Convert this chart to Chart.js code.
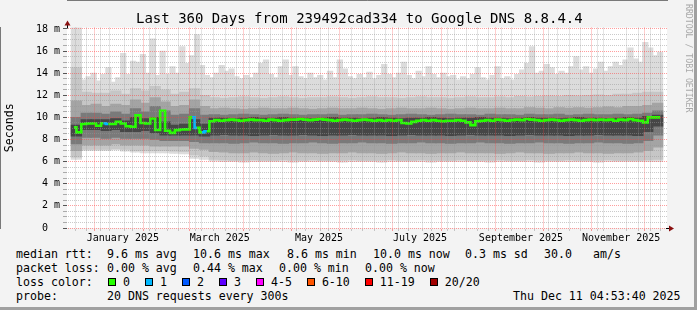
<!DOCTYPE html>
<html lang="en">
<head>
<meta charset="UTF-8" />
<title>Last 360 Days from 239492cad334 to Google DNS 8.8.4.4</title>
<script src="https://cdn.jsdelivr.net/npm/chart.js"></script>
<style>
  body { margin: 0; }
  #frame {
    position: relative; width: 697px; height: 310px; overflow: hidden;
    background: #f3f3f3; box-sizing: border-box;
    border-right: 3px solid #a0a0a0; border-bottom: 3px solid #a0a0a0;
    font-family: "DejaVu Sans Mono", monospace; color: #000;
  }
  #chart-box { position: absolute; left: 0; top: 0; width: 697px; height: 245px; }
  .txt { position: absolute; white-space: pre; font-size: 11.6px; line-height: 14px; }
  #title { position: absolute; left: 136px; top: 10px; white-space: pre; font-size: 14px; line-height: 16px; }
  #credit { position: absolute; left: 684px; top: 4px; writing-mode: vertical-rl; font-size: 8.2px; color: #a8a8a8; white-space: pre; }
  #loss-row { position: absolute; left: 108px; top: 275px; display: flex; align-items: center; }
  .item { display: flex; align-items: center; margin-right: 15px; font-size: 11.6px; line-height: 14px; white-space: pre; }
  .box { width: 6px; height: 6px; border: 1px solid #000; margin-right: 7px; }
</style>
</head>
<body>
<div id="frame">
  <div id="chart-box"><canvas id="smokeChart" width="697" height="245"></canvas></div>
  <div id="title">Last 360 Days from 239492cad334 to Google DNS 8.8.4.4</div>
  <div id="credit">RRDTOOL / TOBI OETIKER</div>

  <div class="txt" style="left:16px; top:247px">median rtt:</div>
  <div class="txt" style="left:107px; top:247px">9.6 ms avg</div>
  <div class="txt" style="left:193px; top:247px">10.6 ms max</div>
  <div class="txt" style="left:287px; top:247px">8.6 ms min</div>
  <div class="txt" style="left:373px; top:247px">10.0 ms now</div>
  <div class="txt" style="left:465px; top:247px">0.3 ms sd</div>
  <div class="txt" style="left:544px; top:247px">30.0</div>
  <div class="txt" style="left:593px; top:247px">am/s</div>

  <div class="txt" style="left:16px; top:261px">packet loss:</div>
  <div class="txt" style="left:107px; top:261px">0.00 % avg</div>
  <div class="txt" style="left:193px; top:261px">0.44 % max</div>
  <div class="txt" style="left:279px; top:261px">0.00 % min</div>
  <div class="txt" style="left:365px; top:261px">0.00 % now</div>

  <div class="txt" style="left:16px; top:275px">loss color:</div>
  <div id="loss-row"></div>

  <div class="txt" style="left:16px; top:289px">probe:</div>
  <div class="txt" style="left:107px; top:289px">20 DNS requests every 300s</div>
  <div class="txt" style="left:513px; top:289px">Thu Dec 11 04:53:40 2025</div>
</div>

<script>
  // time axis in days relative to Jan 1 2025
  const START_DAY = -15.8;
  const END_DAY = 344.2;
  const FINE_STEP = 3;   // days per bin for max / median
  const COARSE_STEP = 6; // days per bin for the inner smoke bands

  const monthStarts = [0, 31, 59, 90, 120, 151, 181, 212, 243, 273, 304, 334];
  const monthLabels = ["January 2025", "March 2025", "May 2025", "July 2025", "September 2025", "November 2025"];
  const monthLabelDays = [15.5, 74.5, 135, 196.5, 258, 319];

  const lossLabels = ["0", "1", "2", "3", "4-5", "6-10", "11-19", "20/20"];
  const lossColors = ["#26ff00", "#00b8ff", "#0059ff", "#5e00ff", "#ff00ff", "#ff5500", "#ff0000", "#a10000"];

  // ms, 3 day bins
  const rttMax = [
    18.5, 18.5, 13.4, 13.7, 14.0, 13.3, 13.9, 14.5, 13.2, 13.6,
    15.8, 13.9, 15.1, 15.0, 15.7, 14.0, 17.1, 13.8, 16.0, 13.9,
    14.6, 14.0, 16.4, 14.9, 15.6, 17.5, 14.7, 13.8, 13.6, 14.0,
    14.7, 14.2, 14.4, 13.7, 13.5, 13.8, 13.6, 14.0, 14.9, 15.2,
    13.9, 13.6, 14.6, 15.2, 13.8, 14.6, 13.7, 13.5, 14.0, 13.6,
    13.8, 13.4, 14.2, 13.6, 15.2, 14.4, 13.7, 13.5, 13.9, 13.6,
    14.1, 13.5, 13.8, 14.8, 13.9, 13.6, 14.0, 15.0, 13.8, 13.5,
    14.2, 13.7, 14.6, 13.9, 13.6, 14.0, 13.7, 13.8, 13.4, 13.7,
    13.5, 13.9, 14.5, 13.6, 13.4, 13.8, 14.6, 13.5, 13.7, 13.4,
    13.9, 14.3, 14.9, 16.4, 14.0, 14.2, 14.8, 14.5, 13.9, 14.2,
    14.0, 14.6, 15.5, 14.3, 14.6, 14.0, 14.4, 15.0, 14.2, 14.6,
    15.0, 14.7, 15.2, 16.3, 15.3, 15.0, 16.8, 16.3, 15.6, 15.9
  ];

  const rttMedian = [
    9.1, 8.65, 9.4, 9.45, 9.45, 9.25, 9.47, 9.4, 9.4, 9.6,
    9.45, 9.2, 9.15, 10.2, 9.5, 9.45, 9.9, 8.86, 10.6, 8.8,
    8.6, 8.85, 8.9, 8.92, 10.0, 9.05, 8.65, 8.75, 9.65, 9.75,
    9.7, 9.75, 9.8, 9.75, 9.7, 9.75, 9.8, 9.75, 9.75, 9.7,
    9.8, 9.75, 9.7, 9.75, 9.8, 9.8, 9.85, 9.8, 9.75, 9.8,
    9.85, 9.8, 9.75, 9.7, 9.75, 9.8, 9.75, 9.7, 9.75, 9.8,
    9.75, 9.7, 9.75, 9.7, 9.75, 9.7, 9.75, 9.5, 9.45, 9.6,
    9.7, 9.75, 9.7, 9.75, 9.7, 9.65, 9.7, 9.7, 9.75, 9.7,
    9.55, 9.3, 9.65, 9.7, 9.75, 9.7, 9.8, 9.75, 9.7, 9.75,
    9.8, 9.75, 9.85, 9.8, 9.75, 9.7, 9.75, 9.8, 9.75, 9.7,
    9.75, 9.8, 9.75, 9.7, 9.75, 9.8, 9.75, 9.8, 9.75, 9.8,
    9.7, 9.8, 9.75, 9.85, 9.75, 9.7, 9.55, 10.0, 10.0, 10.0
  ];

  // lost pings per bin (index into lossColors)
  const lossCount = [
    0, 0, 0, 0, 0, 0, 1, 0, 0, 0,
    0, 0, 0, 0, 0, 0, 0, 0, 0, 0,
    0, 0, 0, 0, 1, 0, 1, 0, 0, 0,
    0, 0, 0, 0, 0, 0, 0, 0, 0, 0,
    0, 0, 0, 0, 0, 0, 0, 0, 0, 0,
    0, 0, 0, 0, 0, 0, 0, 0, 0, 0,
    0, 0, 0, 0, 0, 0, 0, 0, 0, 0,
    0, 0, 0, 0, 0, 0, 0, 0, 0, 0,
    0, 0, 0, 0, 0, 0, 0, 0, 0, 0,
    0, 0, 0, 0, 0, 0, 0, 0, 0, 0,
    0, 0, 0, 0, 0, 0, 0, 0, 0, 0,
    0, 0, 0, 0, 0, 0, 0, 0, 0, 0
  ];

  // ms, 6 day bins: smoke band edges, outermost to innermost
  const smokeMin = [
    6.2, 7.0, 7.0, 7.0, 7.05, 6.95, 6.85, 6.8, 6.8, 6.8, 6.75, 6.7, 6.3, 6.2,
    6.05, 6.0, 6.0, 5.95, 6.0, 6.0,
    6.0, 6.0, 5.95, 6.0, 6.0, 6.0, 6.0, 5.95, 6.0, 6.0,
    6.0, 5.95, 6.0, 6.0, 6.0, 6.0, 5.95, 6.0, 6.0, 6.0,
    6.0, 6.0, 5.95, 6.0, 6.0, 6.0, 6.0, 5.95, 6.0, 6.0,
    6.0, 6.0, 6.0, 5.95, 6.0, 6.0, 6.0, 6.0, 6.0, 6.0
  ];
  const smokeLoA = [
    6.4, 7.1, 7.1, 7.1, 7.15, 7.1, 7.0, 7.0, 7.0, 7.0, 6.95, 6.9, 6.6, 6.5,
    6.2, 6.15, 6.1, 6.1, 6.15, 6.1,
    6.1, 6.15, 6.1, 6.1, 6.15, 6.1, 6.1, 6.1, 6.15, 6.1,
    6.1, 6.1, 6.15, 6.1, 6.1, 6.15, 6.1, 6.1, 6.1, 6.15,
    6.1, 6.1, 6.1, 6.15, 6.1, 6.1, 6.15, 6.1, 6.1, 6.1,
    6.15, 6.1, 6.1, 6.1, 6.15, 6.1, 6.1, 6.1, 6.15, 6.2
  ];
  const smokeLoB = [
    7.0, 7.5, 7.5, 7.5, 7.6, 7.5, 7.5, 7.5, 7.4, 7.4, 7.4, 7.4, 7.2, 7.1,
    6.9, 6.85, 6.8, 6.8, 6.85, 6.8,
    6.75, 6.8, 6.85, 6.8, 6.8, 6.75, 6.8, 6.8, 6.85, 6.8,
    6.8, 6.75, 6.8, 6.85, 6.8, 6.8, 6.75, 6.8, 6.8, 6.85,
    6.8, 6.8, 6.8, 6.75, 6.8, 6.85, 6.8, 6.8, 6.75, 6.8,
    6.8, 6.85, 6.8, 6.8, 6.75, 6.8, 6.8, 6.85, 7.0, 7.3
  ];
  const smokeLoC = [
    7.6, 8.2, 8.2, 8.1, 8.2, 8.1, 8.1, 8.1, 8.0, 7.9, 7.9, 7.9, 7.8, 7.7,
    7.7, 7.7, 7.65, 7.7, 7.75, 7.7,
    7.7, 7.65, 7.7, 7.7, 7.75, 7.7, 7.65, 7.7, 7.7, 7.75,
    7.7, 7.7, 7.65, 7.7, 7.7, 7.75, 7.7, 7.7, 7.65, 7.7,
    7.7, 7.75, 7.7, 7.7, 7.65, 7.7, 7.7, 7.75, 7.7, 7.7,
    7.65, 7.7, 7.7, 7.75, 7.7, 7.7, 7.65, 7.7, 7.9, 8.4
  ];
  const smokeLoD = [
    8.3, 8.9, 8.9, 8.8, 8.9, 8.7, 8.7, 8.8, 8.6, 8.4, 8.4, 8.4, 8.4, 8.3,
    8.4, 8.45, 8.4, 8.4, 8.35, 8.4,
    8.45, 8.4, 8.4, 8.45, 8.4, 8.35, 8.4, 8.4, 8.45, 8.4,
    8.4, 8.4, 8.35, 8.4, 8.45, 8.4, 8.4, 8.4, 8.35, 8.4,
    8.45, 8.4, 8.4, 8.4, 8.35, 8.4, 8.45, 8.4, 8.4, 8.4,
    8.35, 8.4, 8.4, 8.45, 8.4, 8.4, 8.4, 8.35, 8.7, 9.2
  ];
  const smokeHiD = [
    9.3, 9.8, 9.8, 9.8, 9.9, 9.7, 10.0, 9.9, 10.0, 9.6, 9.3, 9.4, 9.8, 9.4,
    9.95, 9.95, 9.9, 9.95, 10.0, 9.95,
    9.95, 10.0, 9.95, 9.95, 9.9, 9.95, 10.0, 9.95, 9.95, 9.9,
    9.95, 10.0, 9.95, 9.9, 9.95, 9.95, 10.0, 9.95, 9.9, 9.95,
    9.95, 10.0, 9.95, 9.95, 9.9, 9.95, 10.0, 9.95, 9.95, 9.9,
    9.95, 10.0, 9.95, 9.95, 9.9, 9.95, 10.0, 9.95, 10.1, 10.2
  ];
  const smokeHiC = [
    10.0, 10.4, 10.4, 10.3, 10.5, 10.3, 10.8, 10.5, 11.0, 10.6, 10.2, 10.3, 10.8, 10.2,
    10.25, 10.2, 10.25, 10.3, 10.25, 10.2,
    10.25, 10.3, 10.25, 10.2, 10.25, 10.25, 10.3, 10.2, 10.25, 10.25,
    10.3, 10.25, 10.2, 10.25, 10.3, 10.25, 10.2, 10.25, 10.3, 10.25,
    10.25, 10.2, 10.3, 10.25, 10.25, 10.2, 10.3, 10.25, 10.25, 10.3,
    10.2, 10.25, 10.3, 10.25, 10.25, 10.3, 10.25, 10.3, 10.4, 10.6
  ];
  const smokeHiB = [
    11.5, 11.1, 11.2, 11.0, 11.2, 11.1, 11.6, 11.3, 11.8, 11.4, 11.0, 11.1, 11.6, 11.0,
    10.8, 10.85, 10.8, 10.75, 10.8, 10.85,
    10.8, 10.8, 10.85, 10.8, 10.75, 10.8, 10.85, 10.8, 10.8, 10.85,
    10.8, 10.75, 10.8, 10.85, 10.8, 10.8, 10.85, 10.8, 10.75, 10.8,
    10.85, 10.8, 10.8, 10.85, 10.8, 10.8, 10.9, 10.85, 10.8, 10.9,
    10.85, 10.9, 10.85, 10.9, 10.95, 10.9, 11.0, 11.0, 11.1, 11.3
  ];
  const smokeHiA = [
    14.5, 12.3, 12.2, 12.2, 12.4, 12.1, 12.6, 12.4, 12.8, 12.5, 12.1, 12.3, 12.6, 12.0,
    11.8, 11.75, 11.8, 11.85, 11.8, 11.75,
    11.8, 11.85, 11.8, 11.75, 11.8, 11.8, 11.85, 11.8, 11.75, 11.8,
    11.85, 11.8, 11.8, 11.75, 11.8, 11.85, 11.8, 11.8, 11.75, 11.8,
    11.85, 11.8, 11.8, 11.85, 11.8, 11.9, 11.85, 11.9, 11.95, 11.9,
    12.0, 11.95, 12.0, 12.05, 12.0, 12.1, 12.1, 12.2, 12.3, 12.3
  ];

  // legend boxes
  const lossRow = document.getElementById("loss-row");
  lossLabels.forEach((label, i) => {
    const item = document.createElement("div");
    item.className = "item";
    item.innerHTML = `<span class="box" style="background:${lossColors[i]}"></span>${label}`;
    lossRow.appendChild(item);
  });

  const fineX = (i) => START_DAY + FINE_STEP * (i + 0.5);
  const coarseX = (j) => START_DAY + COARSE_STEP * (j + 0.5);
  const pxPerDay = 600 / (END_DAY - START_DAY);

  function band(lo, hi, color, order) {
    return {
      type: "bar",
      data: hi.map((v, j) => ({ x: coarseX(j), y: [lo[j], v] })),
      backgroundColor: color,
      borderWidth: 0,
      grouped: false,
      barThickness: COARSE_STEP * pxPerDay + 0.6,
      order: order,
    };
  }

  // grid positions: sundays (minor), month starts (major)
  const sundays = [];
  for (let d = -10; d < END_DAY; d += 7) sundays.push(d);
  const xTickValues = [...new Set([...sundays, ...monthStarts, ...monthLabelDays])].sort((a, b) => a - b);
  const yTickValues = [];
  for (let v = 0; v <= 18; v += 0.5) yTickValues.push(v);

  const MINOR = "rgba(150,150,150,0.5)";
  const MAJOR = "rgba(255,60,60,0.5)";

  function alignPx(p) {
    return Math.round(p - 0.5) + 0.5;
  }

  const frameDecor = {
    id: "frameDecor",
    beforeDraw(chart) {
      const { ctx, chartArea: a } = chart;
      ctx.save();
      ctx.fillStyle = "#ffffff";
      ctx.fillRect(a.left, a.top, a.right - a.left, a.bottom - a.top);
      ctx.restore();
    },
    afterDraw(chart) {
      const { ctx, chartArea: a } = chart;
      const x0 = alignPx(a.left);
      const y0 = alignPx(a.bottom);
      ctx.save();
      ctx.strokeStyle = "#000";
      ctx.lineWidth = 1;
      ctx.beginPath();
      ctx.moveTo(x0, a.top + 1);
      ctx.lineTo(x0, a.top - 3);
      ctx.moveTo(a.right - 1, y0);
      ctx.lineTo(a.right + 3, y0);
      ctx.stroke();
      ctx.fillStyle = "#8a1010";
      ctx.beginPath();
      ctx.moveTo(x0 - 3, a.top - 2);
      ctx.lineTo(x0 + 3, a.top - 2);
      ctx.lineTo(x0, a.top - 7);
      ctx.closePath();
      ctx.fill();
      ctx.beginPath();
      ctx.moveTo(a.right + 2, y0 - 3);
      ctx.lineTo(a.right + 2, y0 + 3);
      ctx.lineTo(a.right + 7, y0);
      ctx.closePath();
      ctx.fill();
      ctx.restore();
    },
  };

  new Chart(document.getElementById("smokeChart"), {
    data: {
      datasets: [
        {
          type: "line",
          data: rttMedian.map((v, i) => ({ x: fineX(i), y: v })),
          borderColor: lossColors[0],
          borderWidth: 2.6,
          pointRadius: 0,
          stepped: "middle",
          segment: {
            borderColor: (ctx) => lossColors[lossCount[ctx.p0DataIndex]],
          },
          order: 0,
        },
        band(smokeLoD, smokeHiD, "#464646", 1),
        band(smokeLoC, smokeHiC, "#7a7a7a", 2),
        band(smokeLoB, smokeHiB, "#a4a4a4", 3),
        band(smokeLoA, smokeHiA, "#c6c6c6", 4),
        {
          type: "bar",
          data: rttMax.map((v, i) => ({ x: fineX(i), y: [smokeMin[Math.floor(i / 2)], v] })),
          backgroundColor: "#dcdcdc",
          borderWidth: 0,
          grouped: false,
          barThickness: FINE_STEP * pxPerDay + 0.6,
          order: 5,
        },
      ],
    },
    options: {
      responsive: false,
      animation: false,
      devicePixelRatio: 1,
      layout: { padding: { left: 0, top: 27.5, right: 30, bottom: 0 } },
      plugins: { legend: { display: false }, tooltip: { enabled: false } },
      scales: {
        x: {
          type: "linear",
          min: START_DAY,
          max: END_DAY,
          afterBuildTicks: (axis) => {
            axis.ticks = xTickValues.map((v) => ({ value: v }));
          },
          afterFit: (axis) => {
            axis.height = 17;
          },
          grid: {
            z: 1,
            color: (ctx) => {
              const v = ctx.tick && ctx.tick.value;
              if (monthLabelDays.includes(v)) return "rgba(0,0,0,0)";
              return monthStarts.includes(v) ? MAJOR : MINOR;
            },
            tickColor: (ctx) => {
              const v = ctx.tick && ctx.tick.value;
              if (monthLabelDays.includes(v)) return "rgba(0,0,0,0)";
              return monthStarts.includes(v) ? MAJOR : MINOR;
            },
            tickLength: 3,
          },
          border: { color: "#000", dash: [1, 1] },
          ticks: {
            autoSkip: false,
            maxRotation: 0,
            padding: 1,
            color: "#000",
            font: { family: "DejaVu Sans Mono", size: 10 },
            callback: (value) => {
              const k = monthLabelDays.indexOf(value);
              return k >= 0 ? monthLabels[k] : "";
            },
          },
        },
        y: {
          min: 0,
          max: 18.13,
          afterBuildTicks: (axis) => {
            axis.ticks = yTickValues.map((v) => ({ value: v }));
          },
          afterFit: (axis) => {
            axis.width = 67;
          },
          grid: {
            z: 1,
            color: (ctx) => (ctx.tick && ctx.tick.value % 2 === 0 ? MAJOR : MINOR),
            tickColor: (ctx) => (ctx.tick && ctx.tick.value % 2 === 0 ? "#555" : "#aaa"),
            tickLength: 4,
          },
          border: { color: "#000", dash: [1, 1] },
          ticks: {
            autoSkip: false,
            padding: 3,
            color: "#000",
            font: { family: "DejaVu Sans Mono", size: 10 },
            callback: (value) => {
              if (value % 2 !== 0) return "";
              return value === 0 ? "0  " : value + " m";
            },
          },
          title: {
            display: true,
            text: "Seconds",
            color: "#000",
            padding: { top: 3, bottom: 0 },
            font: { family: "DejaVu Sans Mono", size: 11.6 },
          },
        },
      },
    },
    plugins: [frameDecor],
  });
</script>
</body>
</html>
